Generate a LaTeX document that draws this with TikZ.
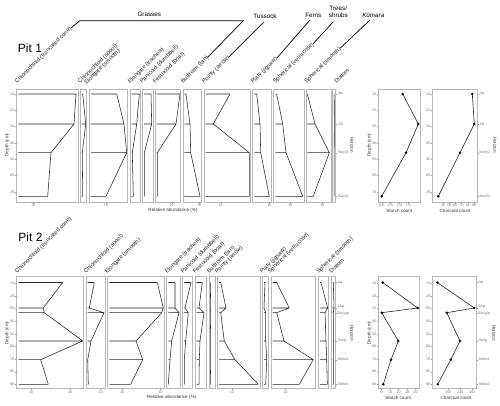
\documentclass[tikz,border=0pt]{standalone}
\usepackage{fontspec}
\setmainfont{Liberation Sans}
\newcommand\profA[5]{\draw[prof] (#1,94)--(#2,94) (#1,124)--(#3,124) (#1,152.7)--(#4,152.7) (#1,196.3)--(#5,196.3) (#2,94)--(#3,124)--(#4,152.7)--(#5,196.3);}
\newcommand\profB[7]{\draw[prof] (#1,282.5)--(#2,282.5) (#1,308)--(#3,308) (#1,312.7)--(#4,312.7) (#1,341)--(#5,341) (#1,359.7)--(#6,359.7) (#1,384.3)--(#7,384.3) (#2,282.5)--(#3,308)--(#4,312.7)--(#5,341)--(#6,359.7)--(#7,384.3);}
\begin{document}
\begin{tikzpicture}[x=1pt,y=-1pt,
 pbox/.style={draw=black!28, line width=0.8pt},
 prof/.style={draw=black!85, line width=0.55pt},
 tk/.style={font=\fontsize{3.6}{4}\selectfont, text=black!55, inner sep=0.6pt},
 tkl/.style={draw=black!40, line width=0.3pt},
 spl/.style={font=\fontsize{5.8}{7}\selectfont, text=black!85, rotate=45, anchor=base west, inner sep=0pt},
 grp/.style={font=\fontsize{6.3}{7.5}\selectfont, align=center, inner sep=0pt},
 axt/.style={font=\fontsize{4.6}{5.5}\selectfont, text=black!80, inner sep=0pt},
 pit/.style={font=\fontsize{12}{14}\selectfont, inner sep=0pt},
 grl/.style={draw=black, line width=0.7pt},
 dot/.style={circle, fill=black, inner sep=0pt, minimum size=2.8pt},
 lne/.style={draw=black!85, line width=0.6pt}]
\useasboundingbox (0,0) rectangle (500,406);

% ---------------- titles
\node[pit] (pit1) at (30,48) {Pit 1};
\node[pit] (pit2) at (30.5,236.7) {Pit 2};

% ---------------- group labels (Pit 1)
\node[grp] (gG) at (149.3,14) {Grasses};
\node[grp] (gT) at (265,16) {Tussock};
\node[grp] (gF) at (313.3,15) {Ferns};
\node[grp] (gS) at (338.3,12) {Trees/\\shrubs};
\node[grp] (gK) at (373.3,15) {\itshape Kūmara};

% ---------------- species labels Pit 1
\node[spl] (a1) at (17,84) {Chionochloid (truncated cone)};
\node[spl] (a2) at (80,84) {Chionochloid (spool)};
\node[spl] (a3) at (86.5,85) {Elongate (smooth)};
\node[spl] (a4) at (130,84) {Elongate (trachea)};
\node[spl] (a5) at (142,84) {Panicoid (dumbbell)};
\node[spl] (a6) at (155,84) {Festucoid (boat)};
\node[spl] (a7) at (183,84) {Bulliform (fan)};
\node[spl] (a8) at (204,84) {Pointy (arrow)};
\node[spl] (a9) at (253,84) {Platy (jigsaw)};
\node[spl] (a10) at (275,84) {Spherical (verrucose)};
\node[spl] (a11) at (306.5,84) {Spherical (smooth)};
\node[spl] (a12) at (336.5,84) {Diatom};

\coordinate (gL) at (80,20.7);
\coordinate (gR) at (243.3,20.7);
\coordinate (tT) at (264,22);
\coordinate (tF) at (310,20);
\coordinate (tS) at (333.3,21.7);
\coordinate (tK) at (370,20);
\draw[grl] (a1.east) -- (gL) -- (gR) -- (a7.east);
\draw[grl] (tT) -- (a8.east);
\draw[grl] (tF) -- (a9.east);
\draw[grl] (tS) -- (a10.east);
\draw[grl] (tK) -- (a11.east);

% ---------------- species labels Pit 2
\node[spl] (b1) at (17,274) {Chionochloid (truncated cone)};
\node[spl] (b2) at (86,274) {Chionochloid (spool)};
\node[spl] (b3) at (107,274) {Elongate (smooth)};
\node[spl] (b4) at (167,274) {Elongate (trachea)};
\node[spl] (b5) at (183,274) {Panicoid (dumbbell)};
\node[spl] (b6) at (195,274) {Festucoid (boat)};
\node[spl] (b7) at (209,274) {Bulliform (fan)};
\node[spl] (b8) at (217,274) {Pointy (arrow)};
\node[spl] (b9) at (262,274) {Platy (jigsaw)};
\node[spl] (b10) at (270,274) {Spherical (verrucose)};
\node[spl] (b11) at (318.5,274) {Spherical (smooth)};
\node[spl] (b12) at (331.5,274) {Diatom};

% ================= PIT 1 =================
\foreach \a/\b in {16.7/78.3,80/86.7,89/127.7,130/140.7,142.7/153.3,155/180.7,183/201.7,204/250.7,252.7/271.7,273.3/304,306/331,332.7/335.7}
  \draw[pbox] (\a,89.3) rectangle (\b,202);
\profA{18.3}{76}{74}{51}{47.7}
\profA{81.7}{82.7}{85.7}{82.3}{82.7}
\profA{91}{116.7}{124}{126.7}{106}
\profA{131.7}{139.3}{136.7}{132.3}{133.3}
\profA{144}{151}{151.7}{144.3}{144.3}
\profA{156.7}{180}{176}{157.3}{157.3}
\profA{184.3}{186}{190}{190.7}{200}
\profA{205.7}{230}{213.3}{249.3}{249.3}
\profA{254.3}{256.7}{260}{260.7}{269.3}
\profA{275.3}{276.7}{282.7}{286}{302.7}
\profA{307.3}{307.3}{315}{329.3}{313.3}
\profA{334}{334.2}{334.3}{334.2}{334.2}
% depth ticks
\foreach \d in {10,20,...,70}{
  \node[tk, anchor=east] (da\d) at (15,{94+(\d-10)*1.63}) {\d};
  \draw[tkl] (15.3,{94+(\d-10)*1.63}) -- (16.7,{94+(\d-10)*1.63});
  \node[tk, anchor=east] (sa\d) at (377,{94+(\d-10)*1.63}) {\d};
  \draw[tkl] (377.3,{94+(\d-10)*1.63}) -- (378.7,{94+(\d-10)*1.63});
  \node[tk, anchor=east] (ca\d) at (431,{94+(\d-10)*1.63}) {\d};
  \draw[tkl] (431.3,{94+(\d-10)*1.63}) -- (432.7,{94+(\d-10)*1.63});
}
% abundance ticks
\foreach \x in {33.3,106,171.7,199.3,220.7,269.3,290.3,322.3}{
  \draw[tkl] (\x,202.3) -- (\x,203.6);
  \node[tk, anchor=north] at (\x,203.5) {10};
}
\node[axt] (ra1) at (173,210.7) {Relative abundance (\%)};
\node[axt, rotate=90] (dp1) at (7.3,145) {Depth (cm)};
% horizon labels middle
\foreach \y/\t in {94/Ap,124/AB,152.7/Bw(t)1,196.3/Bw(t)2}{
  \draw[tkl] (335.9,\y) -- (337.3,\y);
  \node[tk, anchor=west] at (337.5,\y) {\t};
  \draw[tkl] (477.2,\y) -- (478.6,\y);
  \node[tk, anchor=west] at (478.8,\y) {\t};
}
\node[axt, rotate=-90] (hz1) at (352,145) {Horizon};
\node[axt, rotate=-90] (hz1b) at (495,145) {Horizon};
% starch / charcoal Pit 1
\draw[pbox] (378.7,89.3) rectangle (420,202);
\draw[pbox] (432.7,89.3) rectangle (477,202);
\draw[lne] (402.7,94) -- (418.3,124) -- (406,152.7) -- (381.7,196.3);
\foreach \x/\y in {402.7/94,418.3/124,406/152.7,381.7/196.3} \node[dot] at (\x,\y) {};
\draw[lne] (472.3,94) -- (474.3,124) -- (460,152.7) -- (438.3,196.3);
\foreach \x/\y in {472.3/94,474.3/124,460/152.7,438.3/196.3} \node[dot] at (\x,\y) {};
\foreach \x/\t in {381.7/0.0,390.5/2.5,399.3/5.0,408/7.5}{
  \draw[tkl] (\x,202.3) -- (\x,203.6);
  \node[tk, anchor=north] at (\x,203.5) {\t};
}
\foreach \x/\t in {443/40,449.2/50,455.4/60,461.6/70,467.8/80,474/90}{
  \draw[tkl] (\x,202.3) -- (\x,203.6);
  \node[tk, anchor=north] at (\x,203.5) {\t};
}
\node[axt] (st1) at (399.3,211) {Starch count};
\node[axt] (ch1) at (455,211) {Charcoal count};
\node[axt, rotate=90] (dp1b) at (369.5,145) {Depth (cm)};

% ================= PIT 2 =================
\foreach \a/\b in {16.7/83.3,86/105,107.3/164,166.7/180,182.7/192.7,195/206.7,209/215,217.3/260,262.3/268.3,271/315.7,318.3/328.3,331/335}
  \draw[pbox] (\a,276) rectangle (\b,388.3);
\profB{18.6}{62.7}{43.3}{44.3}{82.7}{40.7}{48.3}
\profB{87.7}{94.3}{89.3}{104}{91}{87.7}{88.3}
\profB{109.3}{157.3}{163.3}{161.7}{136}{142.7}{130.7}
\profB{168.3}{175}{175}{179}{171.7}{170}{168.3}
\profB{184}{191}{185}{188.3}{185.7}{184.3}{184.3}
\profB{196.7}{202.3}{199}{204}{200}{199.3}{199}
\profB{210.3}{210.7}{210.3}{210.7}{210.3}{210.3}{210.7}
\profB{219}{220.7}{226}{220.7}{224.3}{235}{258.3}
\profB{264}{265}{264}{265.7}{265.7}{266.7}{265.7}
\profB{272.7}{276.7}{289.3}{276.7}{284}{313.3}{299.3}
\profB{320}{321}{327.7}{325}{326}{326.7}{327.3}
\profB{332.7}{333.3}{334}{333.3}{333.3}{333.3}{333.3}
\foreach \d in {10,20,...,90}{
  \node[tk, anchor=east] (db\d) at (15,{283.3+(\d-10)*1.2625}) {\d};
  \draw[tkl] (15.3,{283.3+(\d-10)*1.2625}) -- (16.7,{283.3+(\d-10)*1.2625});
  \node[tk, anchor=east] (sb\d) at (377,{283.3+(\d-10)*1.2625}) {\d};
  \draw[tkl] (377.3,{283.3+(\d-10)*1.2625}) -- (378.7,{283.3+(\d-10)*1.2625});
  \node[tk, anchor=east] (cb\d) at (431,{283.3+(\d-10)*1.2625}) {\d};
  \draw[tkl] (431.3,{283.3+(\d-10)*1.2625}) -- (432.7,{283.3+(\d-10)*1.2625});
}
\foreach \x/\t in {31.5/10,70/40,100.5/10,122.1/10,160.5/40,231.8/10,285.5/10}{
  \draw[tkl] (\x,388.6) -- (\x,389.9);
  \node[tk, anchor=north] at (\x,389.8) {\t};
}
\node[axt] (ra2) at (171.7,397.7) {Relative abundance (\%)};
\node[axt, rotate=90] (dp2) at (7.3,333) {Depth (cm)};
\foreach \y/\yl/\t in {282.5/282.5/Ap,308/306.8/2Ap,312.7/313.4/Bw(g)p,341/341/3bAp,359.7/359.7/3bBw1,384.3/384.3/3bBw2}{
  \draw[tkl] (335.2,\y) -- (336.6,\y);
  \node[tk, anchor=west] at (336.8,\yl) {\t};
  \draw[tkl] (476.2,\y) -- (477.6,\y);
  \node[tk, anchor=west] at (477.8,\yl) {\t};
}
\node[axt, rotate=-90] (hz2) at (352,333) {Horizon};
\node[axt, rotate=-90] (hz2b) at (494,333) {Horizon};
\draw[pbox] (378.7,276) rectangle (419.3,388.3);
\draw[pbox] (432.7,276) rectangle (476,388.3);
\draw[lne] (382.7,282.5) -- (417.7,308) -- (381.7,312.7) -- (398.3,341) -- (391,359.7) -- (383.3,384.3);
\foreach \x/\y in {382.7/282.5,417.7/308,381.7/312.7,398.3/341,391/359.7,383.3/384.3} \node[dot] at (\x,\y) {};
\draw[lne] (437.3,282.5) -- (474.3,308) -- (446.7,312.7) -- (460,341) -- (450.7,359.7) -- (437.7,384.3);
\foreach \x/\y in {437.3/282.5,474.3/308,446.7/312.7,460/341,450.7/359.7,437.7/384.3} \node[dot] at (\x,\y) {};
\foreach \x/\t in {381.5/0,390/10,398.5/20,407/30,415.5/40}{
  \draw[tkl] (\x,388.6) -- (\x,389.9);
  \node[tk, anchor=north] at (\x,389.8) {\t};
}
\foreach \x/\t in {448.3/100,460.3/200,472.3/300}{
  \draw[tkl] (\x,388.6) -- (\x,389.9);
  \node[tk, anchor=north] at (\x,389.8) {\t};
}
\node[axt] (st2) at (398,397.7) {Starch count};
\node[axt] (ch2) at (456,397.7) {Charcoal count};
\node[axt, rotate=90] (dp2b) at (369.5,333) {Depth (cm)};
\end{tikzpicture}
\end{document}
